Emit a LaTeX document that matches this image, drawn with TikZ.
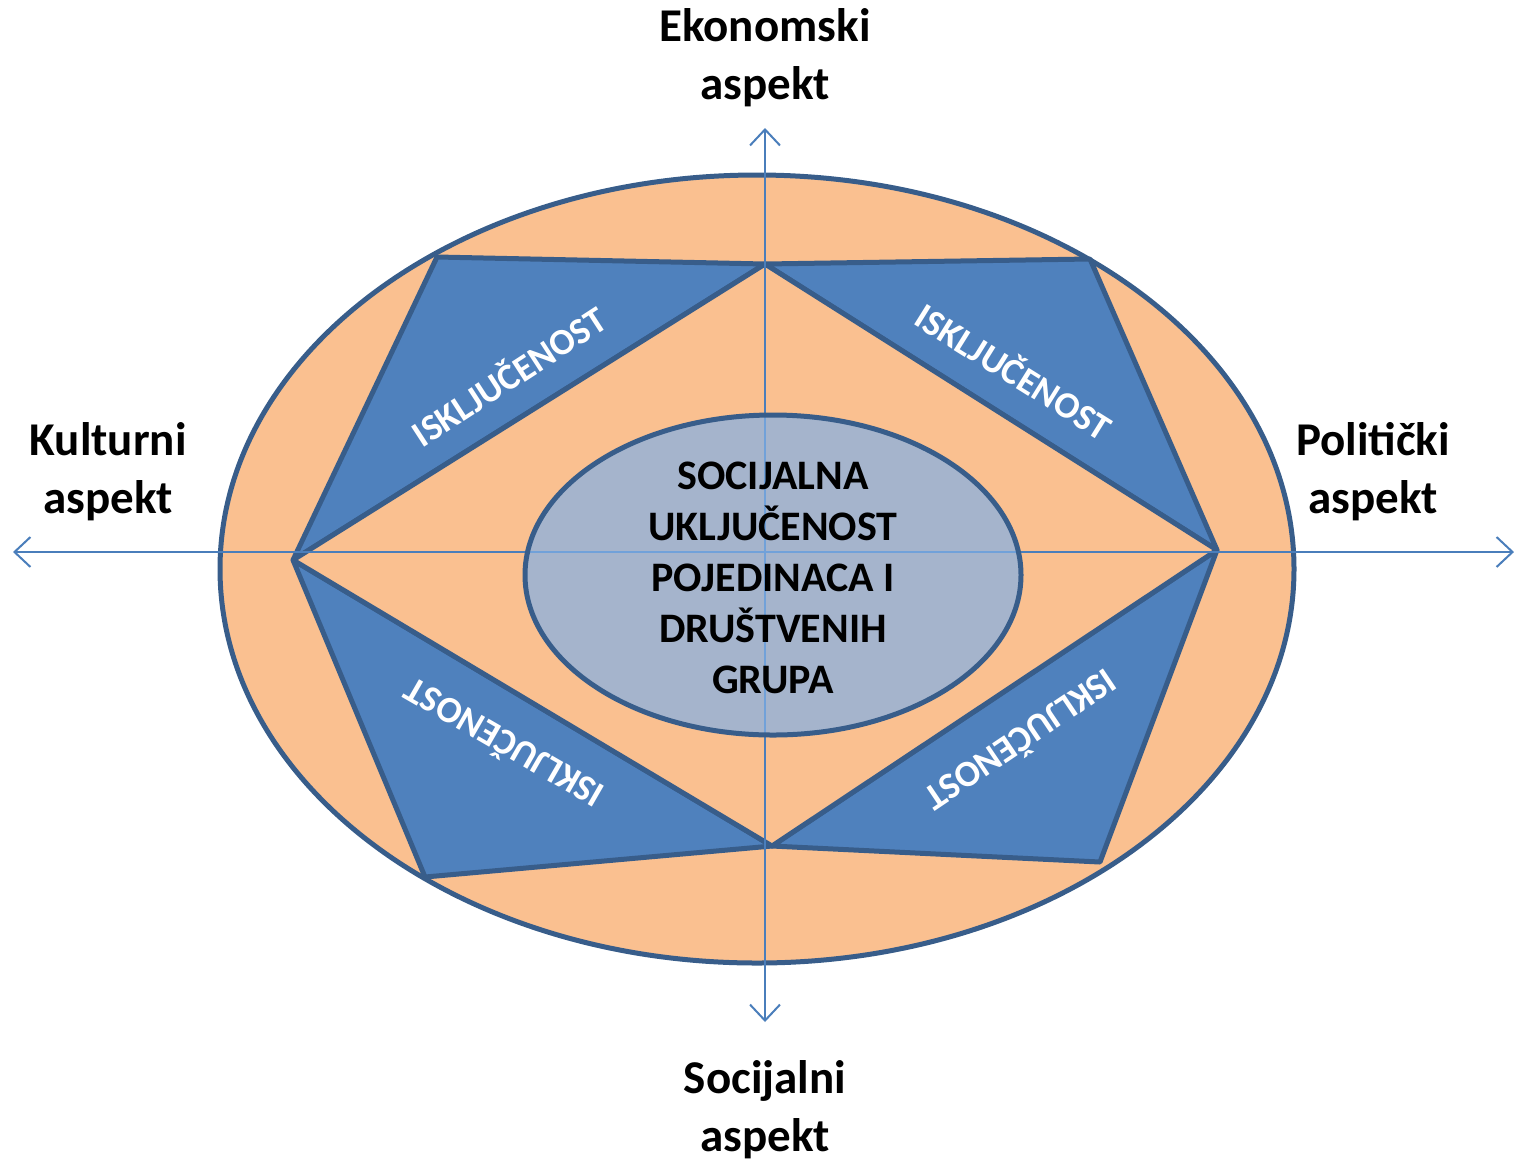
\documentclass[tikz,border=0pt]{standalone}
\usepackage{fontspec}
\setmainfont{Carlito}
\usetikzlibrary{arrows.meta}
\definecolor{peach}{HTML}{FAC090}
\definecolor{blockblue}{HTML}{4F81BD}
\definecolor{edgeblue}{HTML}{385D8A}
\definecolor{coreblue}{RGB}{130,176,230}
\definecolor{axisblue}{HTML}{4A7EBB}
\tikzset{
  shell/.style={draw=edgeblue, line width=5pt, line join=round},
  axisline/.style={draw=axisblue, line width=2pt, -{Straight Barb[length=16pt,width=30pt]}},
  aspectlabel/.style={align=center, inner sep=0pt, font=\bfseries\fontsize{47}{58}\selectfont},
  corelabel/.style={align=center, inner sep=0pt, font=\bfseries\fontsize{42}{51}\selectfont},
  isklabel/.style={inner sep=0pt, text=white, font=\bfseries\fontsize{37}{44}\selectfont}
}
\begin{document}
\begin{tikzpicture}[x=1pt, y=-1pt]
		\useasboundingbox (0,0) rectangle (1514,1163);
		%%%%% CORNERS %%%%%
		\coordinate (top) at (765,264);
		\coordinate (right) at (1217,550);
		\coordinate (bottom) at (772,846);
		\coordinate (left) at (293,560);
		\coordinate (tl) at (437,257);
		\coordinate (tr) at (1090,259);
		\coordinate (br) at (1100,862);
		\coordinate (bl) at (425,877);
		
		%%%%% OUTER RING %%%%%
		\draw[shell, fill=peach] (757,569) ellipse [x radius=537, y radius=394];
		
		%%%%% EXCLUSION BLOCKS %%%%%
		\draw[shell, fill=blockblue] (tl) -- (top) -- (left) -- cycle;
		\draw[shell, fill=blockblue] (top) -- (tr) -- (right) -- cycle;
		\draw[shell, fill=blockblue] (right) -- (br) -- (bottom) -- cycle;
		\draw[shell, fill=blockblue] (left) -- (bottom) -- (bl) -- cycle;
		\draw[shell, fill=peach] (top) -- (right) -- (bottom) -- (left) -- cycle;
		
		%%%%% AXES %%%%%
		\coordinate (north) at (765,128);
		\coordinate (south) at (765,1022);
		\coordinate (west) at (13,552);
		\coordinate (east) at (1514,552);
		\draw[axisline] (765,552) -- (north);
		\draw[axisline] (765,552) -- (south);
		\draw[axisline] (765,552) -- (west);
		\draw[axisline] (765,552) -- (east);
		
		%%%%% CORE %%%%%
		\filldraw[shell, fill=coreblue, fill opacity=0.7] (773,575) ellipse [x radius=248, y radius=160];
		
		%%%%% LABELS %%%%%
		\node[aspectlabel] (eko) at (765,58) {Ekonomski\\aspekt};
		\node[aspectlabel] (kult) at (108,472) {Kulturni\\aspekt};
		\node[aspectlabel] (pol) at (1373,472) {Politički\\aspekt};
		\node[aspectlabel] (soc) at (765,1110) {Socijalni\\aspekt};
		\node[corelabel] (core) at (773,578) {SOCIJALNA\\UKLJUČENOST\\POJEDINACA I\\DRUŠTVENIH\\GRUPA};
		\node[isklabel, rotate=33] (isktl) at (508,375) {ISKLJUČENOST};
		\node[isklabel, rotate=-32] (isktr) at (1015,370) {ISKLJUČENOST};
		\node[isklabel, rotate=150] (isbl) at (503,745) {ISKLJUČENOST};
		\node[isklabel, rotate=-146] (isbr) at (1022,742) {ISKLJUČENOST};
	\end{tikzpicture}
\end{document}
